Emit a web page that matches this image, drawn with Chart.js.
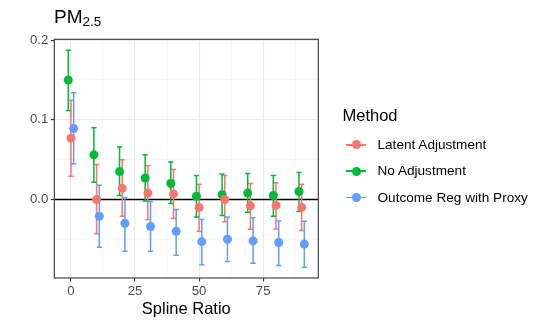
<!DOCTYPE html>
<html>
<head>
<meta charset="utf-8">
<script src="https://cdn.jsdelivr.net/npm/chart.js@4.4.1/dist/chart.umd.min.js"></script>
<style>
  body { margin: 0; background: #fff; }
  #wrap { position: relative; width: 545px; height: 327px; font-family: "Liberation Sans", Arial, sans-serif; }
  #title { position: absolute; left: 54px; top: 7px; font-size: 19px; color: #000; line-height: 20px; white-space: nowrap; }
  #title sub { font-size: 13.5px; vertical-align: -2.5px; line-height: 0; }
  #legendTitle { position: absolute; left: 342.5px; top: 106px; font-size: 16.5px; color: #000; line-height: 18px; }
  .row { position: absolute; left: 346px; height: 16px; font-size: 13.6px; color: #000; }
  .key { position: absolute; left: 0; top: 7px; width: 20px; height: 1.6px; }
  .dot { position: absolute; left: 5.5px; top: 3.3px; width: 9px; height: 9px; border-radius: 50%; }
  .lab { position: absolute; left: 31.5px; top: 0; white-space: nowrap; line-height: 16px; }
</style>
</head>
<body>
<div id="wrap">
  <canvas id="c" width="545" height="327"></canvas>
  <div id="title">PM<sub>2.5</sub></div>
  <div id="legendTitle">Method</div>
  <div id="legend"></div>
</div>
<script>
// data
const splineRatio = [0, 10, 20, 30, 40, 50, 60, 70, 80, 90];
const methods = ['Latent Adjustment', 'No Adjustment', 'Outcome Reg with Proxy'];
const methodColors = ['#F8766D', '#00BA38', '#619CFF'];

const latentEst  = [0.077, 0.000, 0.014, 0.008, 0.007, -0.010, 0.000, -0.008, -0.0075, -0.010];
const latentLow  = [0.029, -0.043, -0.021, -0.025, -0.024, -0.040, -0.028, -0.0375, -0.037, -0.039];
const latentHigh = [0.1246, 0.044, 0.050, 0.0425, 0.0375, 0.019, 0.030, 0.020, 0.021, 0.019];

const noAdjEst  = [0.150, 0.056, 0.035, 0.027, 0.020, 0.004, 0.006, 0.008, 0.005, 0.010];
const noAdjLow  = [0.1117, 0.0217, 0.005, -0.002, -0.005, -0.022, -0.020, -0.016, -0.021, -0.015];
const noAdjHigh = [0.1875, 0.090, 0.066, 0.056, 0.047, 0.030, 0.032, 0.0325, 0.030, 0.034];

const proxyEst  = [0.089, -0.021, -0.030, -0.034, -0.040, -0.053, -0.050, -0.052, -0.054, -0.056];
const proxyLow  = [0.045, -0.060, -0.065, -0.065, -0.070, -0.082, -0.078, -0.080, -0.083, -0.085];
const proxyHigh = [0.134, 0.018, 0.0025, -0.0025, -0.0125, -0.025, -0.022, -0.023, -0.027, -0.0275];

const xTicks = [0, 25, 50, 75];
const xGrid = [0, 12.5, 25, 37.5, 50, 62.5, 75, 87.5];
const yTicks = [0, 0.1, 0.2];
const yGrid = [-0.05, 0, 0.05, 0.1, 0.15, 0.2];

// small horizontal dodge per method (x units)
const dodge = [0, -1.05, 1.05];

const estimates = [latentEst, noAdjEst, proxyEst];
const lows = [latentLow, noAdjLow, proxyLow];
const highs = [latentHigh, noAdjHigh, proxyHigh];

const datasets = methods.map((m, k) => ({
    label: m,
    data: splineRatio.map((x, i) => ({ x: x + dodge[k], y: estimates[k][i], lo: lows[k][i], hi: highs[k][i] })),
    backgroundColor: methodColors[k],
    borderColor: methodColors[k],
    borderWidth: 0,
    pointRadius: 4.5,
    pointHoverRadius: 4.5
}));

const isMajor = (list, v) => list.some(t => Math.abs(t - v) < 1e-9);

const panelPlugin = {
    id: 'panel',
    beforeDatasetsDraw(chart) {
        const ctx = chart.ctx;
        const xs = chart.scales.x, ys = chart.scales.y;
        const a = chart.chartArea;
        ctx.save();
        ctx.beginPath();
        ctx.rect(a.left, a.top, a.right - a.left, a.bottom - a.top);
        ctx.clip();
        // zero line
        ctx.strokeStyle = '#000';
        ctx.lineWidth = 1.6;
        ctx.beginPath();
        ctx.moveTo(a.left, ys.getPixelForValue(0));
        ctx.lineTo(a.right, ys.getPixelForValue(0));
        ctx.stroke();
        // error bars
        ctx.lineWidth = 1.5;
        chart.data.datasets.forEach(ds => {
            ctx.strokeStyle = ds.borderColor;
            ds.data.forEach(p => {
                const px = xs.getPixelForValue(p.x);
                const top = ys.getPixelForValue(p.hi);
                const bot = ys.getPixelForValue(p.lo);
                ctx.beginPath();
                ctx.moveTo(px, top); ctx.lineTo(px, bot);
                ctx.moveTo(px - 2.6, top); ctx.lineTo(px + 2.6, top);
                ctx.moveTo(px - 2.6, bot); ctx.lineTo(px + 2.6, bot);
                ctx.stroke();
            });
        });
        ctx.restore();
    },
    afterDraw(chart) {
        const ctx = chart.ctx;
        const a = chart.chartArea;
        ctx.save();
        ctx.strokeStyle = '#333333';
        ctx.lineWidth = 1.1;
        ctx.strokeRect(a.left, a.top, a.right - a.left, a.bottom - a.top);
        ctx.restore();
    }
};

Chart.defaults.font.family = '"Liberation Sans", Arial, sans-serif';

new Chart(document.getElementById('c'), {
    type: 'scatter',
    data: { datasets: datasets },
    options: {
        responsive: false,
        animation: false,
        devicePixelRatio: 1,
        layout: { padding: { left: 0, top: 39.3, right: 545 - 318.3, bottom: 0 } },
        plugins: {
            legend: { display: false },
            tooltip: { enabled: false }
        },
        scales: {
            x: {
                type: 'linear',
                min: -6.5,
                max: 96.5,
                afterBuildTicks: s => { s.ticks = xGrid.map(v => ({ value: v })); },
                afterFit: s => { s.height = 49; },
                ticks: {
                    autoSkip: false,
                    maxRotation: 0,
                    color: '#4D4D4D',
                    font: { size: 13.2 },
                    padding: 2,
                    callback: v => isMajor(xTicks, v) ? String(v) : ''
                },
                grid: {
                    color: c => isMajor(xTicks, c.tick.value) ? '#EBEBEB' : '#F4F4F4',
                    lineWidth: c => isMajor(xTicks, c.tick.value) ? 1.1 : 0.6,
                    tickLength: 3.5,
                    tickColor: c => isMajor(xTicks, c.tick.value) ? '#333333' : 'rgba(0,0,0,0)'
                },
                border: { display: false },
                title: {
                    display: true,
                    text: 'Spline Ratio',
                    color: '#000',
                    font: { size: 16.5 },
                    padding: { top: 2, bottom: 8 }
                }
            },
            y: {
                type: 'linear',
                min: -0.0986,
                max: 0.2011,
                afterBuildTicks: s => { s.ticks = yGrid.map(v => ({ value: v })); },
                afterFit: s => { s.width = 54.3; },
                ticks: {
                    autoSkip: false,
                    color: '#4D4D4D',
                    font: { size: 13.2 },
                    padding: 2.5,
                    callback: v => isMajor(yTicks, v) ? v.toFixed(1) : ''
                },
                grid: {
                    color: c => isMajor(yTicks, c.tick.value) ? '#EBEBEB' : '#F4F4F4',
                    lineWidth: c => isMajor(yTicks, c.tick.value) ? 1.1 : 0.6,
                    tickLength: 3.5,
                    tickColor: c => isMajor(yTicks, c.tick.value) ? '#333333' : 'rgba(0,0,0,0)'
                },
                border: { display: false }
            }
        }
    },
    plugins: [panelPlugin]
});

// legend
const legend = document.getElementById('legend');
methods.forEach((m, k) => {
    const row = document.createElement('div');
    row.className = 'row';
    row.style.top = (137 + 26.3 * k) + 'px';
    row.innerHTML = '<div class="key" style="background:' + methodColors[k] + '"></div>' +
        '<div class="dot" style="background:' + methodColors[k] + '"></div>' +
        '<div class="lab">' + m + '</div>';
    legend.appendChild(row);
});
</script>
</body>
</html>
